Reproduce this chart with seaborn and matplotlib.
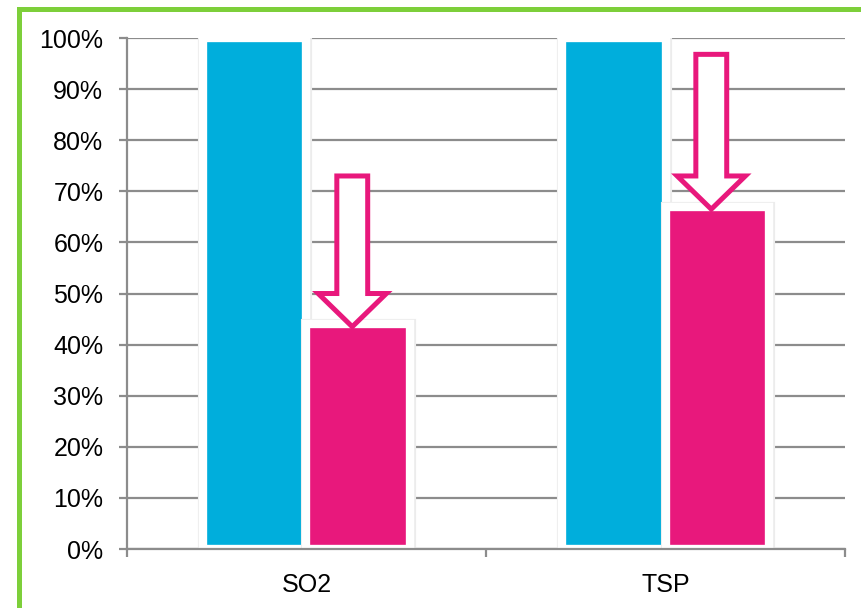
import pandas as pd
import seaborn as sns
import matplotlib.pyplot as plt
import matplotlib.patheffects as pe
from matplotlib.patches import FancyArrow, Rectangle

# data
pollutants = ["SO2", "TSP"]
baseline = [100, 100]
reduced = [44, 67]
arrow_tops = [73.0, 96.8]
y_ticks = [0, 10, 20, 30, 40, 50, 60, 70, 80, 90, 100]
y_labels = [f"{t}%" for t in y_ticks]

cyan = "#00aedc"
magenta = "#e8187c"
green = "#7dcf3a"
grey = "#8c8c8c"

df = pd.DataFrame({
    "pollutant": pollutants * 2,
    "share": baseline + reduced,
    "period": ["before"] * len(pollutants) + ["after"] * len(pollutants),
})

sns.set_style("white")
plt.rcParams["font.family"] = ["Liberation Sans", "DejaVu Sans"]

fig = plt.figure(figsize=(8.62, 6.08), dpi=100)
ax = fig.add_axes([0.1473, 0.097, 0.833, 0.8405])

sns.barplot(data=df, x="pollutant", y="share", hue="period",
            palette=[cyan, magenta], saturation=1, width=0.574,
            edgecolor="white", linewidth=6, legend=False, ax=ax, zorder=2)

# faint shadow around the white-edged bars
for bar in ax.patches:
    bar.set_path_effects([pe.SimplePatchShadow(offset=(0, 0), shadow_rgbFace="#d8d8d8",
                                               alpha=0.9, rho=1),
                          pe.Stroke(linewidth=8, foreground="#ececec"),
                          pe.Normal()])

ax.set_ylim(0, 100)
ax.set_xlim(-0.5, 1.5)
ax.set_yticks(y_ticks)
ax.set_yticklabels(y_labels)
ax.set_xticks([0, 1])
ax.set_xticklabels(pollutants)
ax.set_xticks([-0.5, 0.5, 1.5], minor=True)
ax.set_xlabel("")
ax.set_ylabel("")

ax.yaxis.grid(True, color=grey, linewidth=1.6)
ax.set_axisbelow(True)
for side in ["top", "right"]:
    ax.spines[side].set_visible(False)
for side in ["left", "bottom"]:
    ax.spines[side].set_color(grey)
    ax.spines[side].set_linewidth(1.6)

ax.tick_params(axis="y", which="major", length=6, width=1.6, color=grey,
               pad=11, labelsize=18, labelcolor="black", left=True)
ax.tick_params(axis="x", which="major", length=0, pad=17, labelsize=18,
               labelcolor="black")
ax.tick_params(axis="x", which="minor", length=6, width=1.6, color=grey,
               bottom=True)

# hollow arrows pointing down onto the reduced bars
for bar, top in zip(ax.containers[1], arrow_tops):
    xc = bar.get_x() + bar.get_width() / 2 - 0.016
    tip = bar.get_height() - 0.5
    arrow = FancyArrow(xc, top, 0, tip - top, width=0.086, head_width=0.19,
                       head_length=6.5, length_includes_head=True,
                       facecolor="white", edgecolor=magenta, linewidth=3.6,
                       joinstyle="miter", zorder=4)
    ax.add_patch(arrow)

# green frame, cut off at the right and bottom like the source image
frame = Rectangle((0.022, -0.2), 1.3, 0.986 + 0.2, transform=fig.transFigure,
                  fill=False, edgecolor=green, linewidth=3.6, clip_on=False)
fig.patches.append(frame)

fig.savefig("out.png", dpi=100)
